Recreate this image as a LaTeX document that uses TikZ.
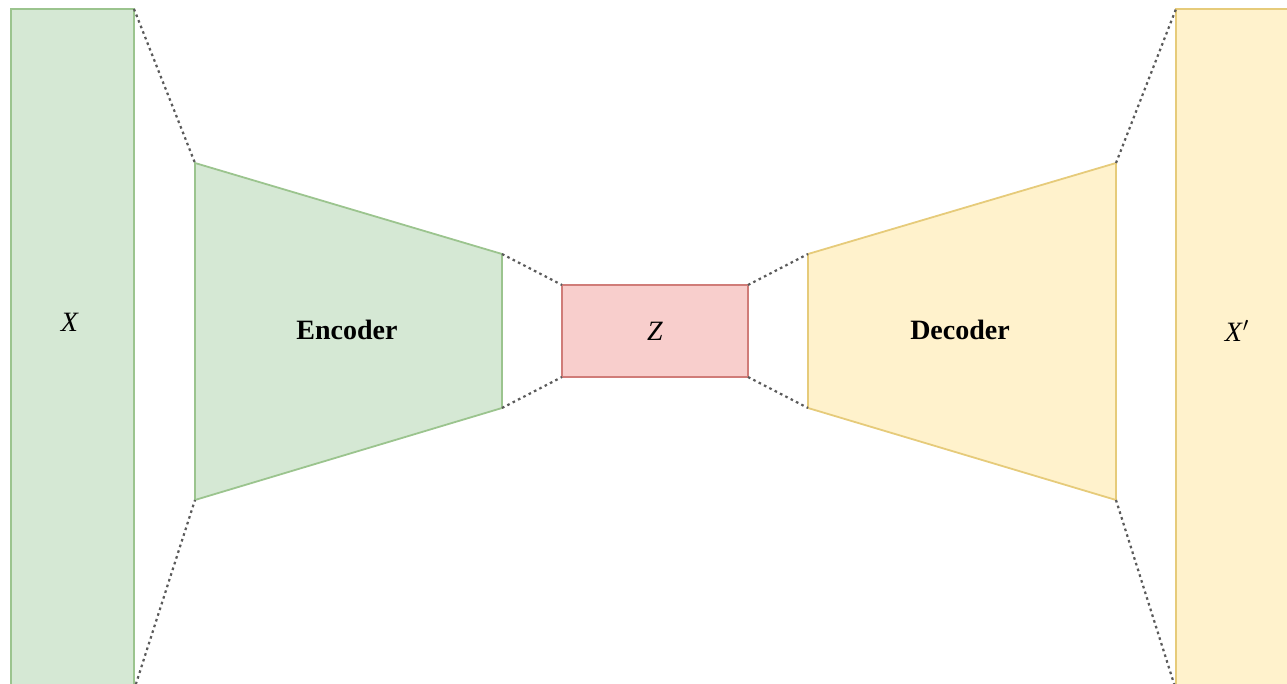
\documentclass[tikz,border=0pt]{standalone}
\usepackage{fontspec}
\setmainfont{Liberation Serif}
\definecolor{gfill}{HTML}{D5E8D4}
\definecolor{gline}{HTML}{9BC48E}
\definecolor{rfill}{HTML}{F8CECC}
\definecolor{rline}{HTML}{D07C78}
\definecolor{yfill}{HTML}{FFF2CC}
\definecolor{yline}{HTML}{E6CB7A}
\definecolor{dline}{HTML}{5A5A5A}
\tikzset{
  greenshape/.style={fill=gfill,draw=gline,line width=0.9pt,line join=miter},
  redshape/.style={fill=rfill,draw=rline,line width=0.9pt},
  yellowshape/.style={fill=yfill,draw=yline,line width=0.9pt,line join=miter},
  link/.style={draw=dline,line width=1.1pt,dash pattern=on 1.3pt off 1.7pt},
  lbl/.style={font=\fontsize{14}{16}\selectfont},
}
\begin{document}
\begin{tikzpicture}[x=0.5pt,y=-0.5pt]
\useasboundingbox (0,0) rectangle (1287,684);
\clip (0,0) rectangle (1287,684);
% corner coordinates
\coordinate (xtr) at (134,9);
\coordinate (xbr) at (134,690);
\coordinate (etl) at (195,163);
\coordinate (ebl) at (195,500);
\coordinate (etr) at (502,254);
\coordinate (ebr) at (502,408);
\coordinate (ztl) at (562,285);
\coordinate (zbl) at (562,377);
\coordinate (ztr) at (748,285);
\coordinate (zbr) at (748,377);
\coordinate (dtl) at (808,254);
\coordinate (dbl) at (808,408);
\coordinate (dtr) at (1116,163);
\coordinate (dbr) at (1116,500);
\coordinate (ytl) at (1176,9);
\coordinate (ybl) at (1176,690);
% shapes
\path[greenshape] (11,9) rectangle (xbr);
\path[greenshape] (etl) -- (etr) -- (ebr) -- (ebl) -- cycle;
\path[redshape] (ztl) rectangle (zbr);
\path[yellowshape] (dtl) -- (dtr) -- (dbr) -- (dbl) -- cycle;
\path[yellowshape] (ytl) rectangle (1300,690);
% labels
\node[lbl] (xl) at (70,322) {\textit{X}};
\node[lbl] (enc) at (347,330) {\textbf{Encoder}};
\node[lbl] (zl) at (655,331) {\textit{Z}};
\node[lbl] (dec) at (960,330) {\textbf{Decoder}};
\node[lbl] (xpl) at (1237,331) {\textit{X}$'$};
% dashed connectors
\draw[link] (xtr) -- (etl);
\draw[link] (xbr) -- (ebl);
\draw[link] (etr) -- (ztl);
\draw[link] (ebr) -- (zbl);
\draw[link] (ztr) -- (dtl);
\draw[link] (zbr) -- (dbl);
\draw[link] (dtr) -- (ytl);
\draw[link] (dbr) -- (ybl);
\end{tikzpicture}
\end{document}
